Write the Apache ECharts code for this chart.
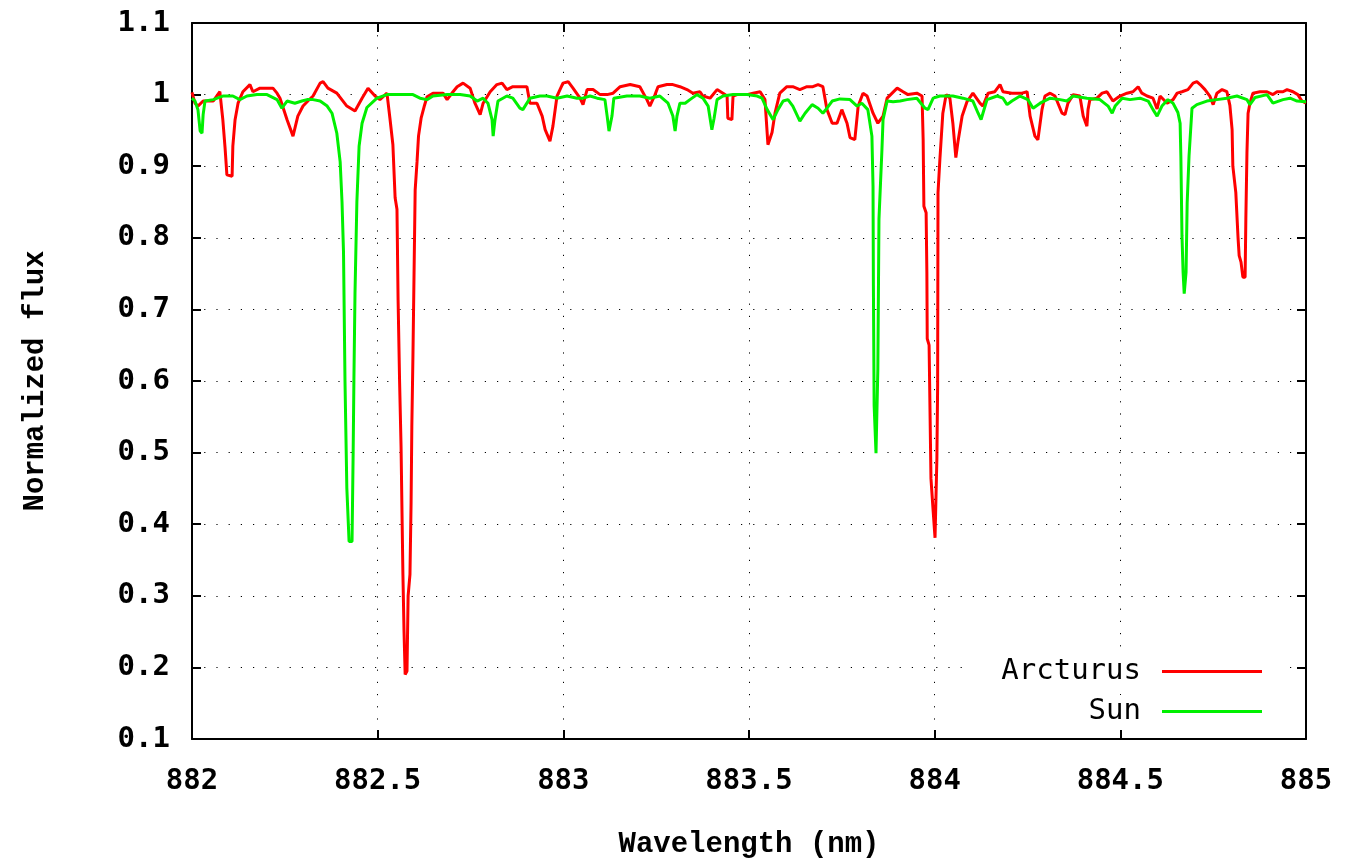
<!DOCTYPE html>
<html>
<head>
<meta charset="utf-8">
<script src="https://cdn.jsdelivr.net/npm/echarts@6/dist/echarts.min.js"></script>
<style>
html,body{margin:0;padding:0;background:#fff;}
#chart{width:1346px;height:864px;}
</style>
</head>
<body>
<div id="chart"></div>
<script>
// ---- Data ----
const xTicks = [882, 882.5, 883, 883.5, 884, 884.5, 885];
const yTicks = [0.1, 0.2, 0.3, 0.4, 0.5, 0.6, 0.7, 0.8, 0.9, 1, 1.1];
const seriesNames = ['Arcturus', 'Sun'];

const arcturusWavelength = [
 882.000,882.008,882.016,882.030,882.057,882.075,882.083,882.089,882.094,882.108,882.110,882.116,882.124,882.137,882.156,882.164,882.183,882.218,882.229,882.237,
 882.256,882.272,882.285,882.299,882.312,882.326,882.345,882.353,882.366,882.390,882.417,882.439,882.458,882.474,882.493,882.506,882.525,882.533,882.541,882.547,
 882.552,882.555,882.559,882.563,882.566,882.568,882.571,882.574,882.579,882.582,882.587,882.590,882.592,882.595,882.601,882.606,882.610,882.617,882.625,882.633,
 882.649,882.676,882.687,882.703,882.714,882.730,882.749,882.762,882.776,882.784,882.803,882.821,882.835,882.848,882.864,882.902,882.910,882.929,882.943,882.951,
 882.964,882.972,882.983,882.999,883.013,883.026,883.045,883.053,883.064,883.080,883.099,883.118,883.134,883.153,883.180,883.206,883.225,883.233,883.247,883.255,
 883.279,883.295,883.314,883.333,883.349,883.368,883.376,883.395,883.414,883.430,883.441,883.443,883.454,883.457,883.468,883.495,883.511,883.530,883.543,883.551,
 883.562,883.570,883.583,883.602,883.618,883.637,883.656,883.672,883.686,883.699,883.710,883.724,883.737,883.750,883.764,883.772,883.785,883.794,883.807,883.818,
 883.834,883.847,883.861,883.872,883.899,883.915,883.928,883.952,883.966,883.969,883.971,883.977,883.979,883.980,883.985,883.990,883.996,884.001,884.006,884.008,
 884.009,884.014,884.022,884.031,884.041,884.049,884.057,884.063,884.074,884.087,884.103,884.122,884.130,884.144,884.162,884.176,884.184,884.208,884.235,884.249,
 884.257,884.270,884.278,884.289,884.297,884.311,884.324,884.343,884.351,884.359,884.373,884.391,884.400,884.410,884.413,884.418,884.437,884.451,884.464,884.480,
 884.499,884.518,884.534,884.548,884.558,884.572,884.588,884.599,884.607,884.626,884.642,884.653,884.666,884.682,884.696,884.706,884.715,884.728,884.741,884.750,
 884.760,884.774,884.787,884.795,884.801,884.803,884.811,884.817,884.820,884.825,884.830,884.836,884.838,884.841,884.844,884.849,884.857,884.876,884.895,884.911,
 884.922,884.938,884.949,884.965,884.978,884.989,885.000
];
const arcturusFlux = [
 1.003,0.988,0.984,0.991,0.991,1.004,0.965,0.926,0.888,0.886,0.928,0.965,0.988,1.004,1.014,1.004,1.009,1.009,1.002,0.995,
 0.965,0.942,0.970,0.984,0.991,0.998,1.016,1.018,1.009,1.002,0.984,0.977,0.995,1.009,0.998,0.993,1.002,0.967,0.930,0.856,
 0.840,0.713,0.600,0.508,0.400,0.330,0.250,0.190,0.195,0.300,0.330,0.430,0.536,0.635,0.867,0.906,0.942,0.967,0.983,0.997,
 1.002,1.002,0.993,1.004,1.011,1.016,1.009,0.988,0.972,0.988,1.004,1.014,1.016,1.007,1.011,1.011,0.988,0.988,0.970,0.951,
 0.935,0.956,0.998,1.016,1.018,1.009,0.995,0.986,1.007,1.007,1.000,1.000,1.002,1.011,1.014,1.011,0.993,0.984,1.000,1.011,
 1.014,1.014,1.011,1.007,1.002,1.004,0.998,0.995,1.007,1.002,0.998,0.967,0.965,0.998,1.000,1.000,1.002,1.004,0.993,0.930,
 0.947,0.974,1.002,1.011,1.011,1.007,1.011,1.011,1.014,1.011,0.979,0.960,0.960,0.979,0.960,0.940,0.937,0.984,1.002,0.998,
 0.974,0.960,0.970,0.995,1.009,1.004,1.000,1.002,0.998,0.937,0.844,0.835,0.752,0.659,0.650,0.464,0.418,0.381,0.492,0.594,
 0.863,0.909,0.974,1.000,0.995,0.960,0.912,0.935,0.970,0.990,1.002,0.988,0.984,1.002,1.004,1.014,1.004,1.002,1.002,1.004,
 0.970,0.942,0.937,0.979,0.998,1.002,0.998,0.974,0.972,0.988,1.000,0.998,0.970,0.956,0.979,0.993,0.995,1.002,1.004,0.991,
 0.998,1.002,1.004,1.011,1.002,0.998,0.995,0.980,0.998,0.988,0.993,1.002,1.004,1.007,1.016,1.018,1.014,1.007,0.998,0.986,
 1.002,1.007,1.004,0.985,0.951,0.900,0.863,0.800,0.775,0.766,0.745,0.745,0.826,0.919,0.974,0.988,1.002,1.004,1.004,1.000,
 1.004,1.004,1.007,1.004,1.000,0.991,0.988
];

const sunWavelength = [
 882.000,882.008,882.016,882.022,882.027,882.030,882.035,882.057,882.083,882.110,882.129,882.148,882.175,882.202,882.229,882.242,882.256,882.277,882.296,882.310,
 882.326,882.345,882.364,882.377,882.390,882.399,882.404,882.408,882.412,882.417,882.423,882.431,882.434,882.436,882.439,882.444,882.450,882.458,882.471,882.498,
 882.525,882.560,882.595,882.614,882.633,882.649,882.687,882.722,882.749,882.768,882.784,882.797,882.808,882.811,882.816,882.824,882.848,882.864,882.883,882.891,
 882.910,882.937,882.956,882.983,883.010,883.037,883.053,883.072,883.091,883.112,883.118,883.123,883.131,883.136,883.171,883.206,883.233,883.260,883.282,883.295,
 883.301,883.306,883.314,883.328,883.341,883.360,883.376,883.390,883.400,883.406,883.414,883.430,883.457,883.495,883.522,883.535,883.549,883.565,883.578,883.592,
 883.605,883.618,883.637,883.651,883.670,883.686,883.699,883.710,883.724,883.745,883.772,883.791,883.804,883.820,883.831,883.834,883.835,883.837,883.842,883.845,
 883.847,883.850,883.858,883.861,883.872,883.888,883.907,883.925,883.952,883.974,883.982,883.996,884.014,884.049,884.076,884.103,884.117,884.125,884.130,884.141,
 884.168,884.184,884.195,884.208,884.230,884.251,884.265,884.284,884.311,884.338,884.356,884.373,884.410,884.445,884.467,884.478,884.486,884.505,884.526,884.553,
 884.575,884.588,884.599,884.612,884.628,884.642,884.655,884.661,884.663,884.666,884.669,884.672,884.674,884.677,884.680,884.685,884.693,884.706,884.733,884.760,
 884.787,884.814,884.841,884.849,884.863,884.895,884.911,884.938,884.957,884.976,885.000
];
const sunFlux = [
 0.995,0.991,0.979,0.949,0.946,0.972,0.991,0.993,0.998,0.998,0.993,0.998,1.000,1.000,0.993,0.981,0.991,0.988,0.991,0.993,
 0.993,0.991,0.984,0.974,0.946,0.906,0.850,0.780,0.600,0.450,0.376,0.376,0.500,0.600,0.724,0.850,0.928,0.960,0.982,0.995,
 1.000,1.000,1.000,0.995,0.993,0.998,1.000,1.000,0.998,0.991,0.995,0.988,0.965,0.942,0.965,0.991,0.998,0.995,0.981,0.979,
 0.995,0.998,0.998,0.995,0.998,0.995,0.995,0.998,0.995,0.993,0.970,0.949,0.970,0.995,0.998,0.998,0.995,0.998,0.988,0.970,
 0.949,0.970,0.988,0.988,0.993,1.000,0.995,0.984,0.951,0.967,0.993,0.998,1.000,1.000,0.998,0.995,0.979,0.965,0.979,0.991,
 0.993,0.984,0.963,0.974,0.986,0.981,0.974,0.981,0.991,0.994,0.993,0.984,0.988,0.979,0.942,0.872,0.733,0.566,0.499,0.500,
 0.617,0.826,0.923,0.965,0.991,0.990,0.991,0.993,0.995,0.981,0.979,0.995,0.998,0.998,0.995,0.991,0.974,0.965,0.974,0.993,
 0.998,0.995,0.986,0.991,0.998,0.993,0.981,0.988,0.995,0.993,0.991,0.998,0.995,0.993,0.984,0.974,0.984,0.995,0.993,0.995,
 0.991,0.979,0.970,0.984,0.993,0.988,0.975,0.960,0.914,0.803,0.752,0.722,0.724,0.752,0.849,0.914,0.981,0.986,0.991,0.993,
 0.995,0.998,0.993,0.986,0.996,1.000,0.988,0.993,0.995,0.991,0.990
];

// ---- Build series data ----
const zip = (xs, ys) => xs.map((x, i) => [x, ys[i]]);
const arcturusData = zip(arcturusWavelength, arcturusFlux);
const sunData = zip(sunWavelength, sunFlux);

const tickFont = { fontFamily: 'DejaVu Sans Mono', fontWeight: 'bold', fontSize: 29, color: '#000' };
const titleFont = { fontFamily: 'Liberation Mono', fontWeight: 'bold', fontSize: 29, color: '#000' };
const fmt = v => String(+(+v).toFixed(2));

const chart = echarts.init(document.getElementById('chart'), null, { renderer: 'canvas' });
const baseX = {
  type: 'value', min: xTicks[0], max: xTicks[xTicks.length - 1], interval: 0.5,
  axisLine: { show: true, onZero: false, lineStyle: { color: '#000', width: 2 } },
  axisTick: { show: true, inside: true, length: 9, lineStyle: { color: '#000', width: 2 } }
};
const baseY = {
  type: 'value', min: yTicks[0], max: yTicks[yTicks.length - 1], interval: 0.1,
  axisLine: { show: true, onZero: false, lineStyle: { color: '#000', width: 2 } },
  axisTick: { show: true, inside: true, length: 9, lineStyle: { color: '#000', width: 2 } }
};
const legendCommon = {
  orient: 'horizontal', align: 'right', right: 63, itemWidth: 100, itemHeight: 3, icon: 'rect',
  backgroundColor: '#fff', padding: [2, 21, 2, 35],
  textStyle: { fontFamily: 'DejaVu Sans Mono', fontSize: 29, color: '#000', padding: [0, 16, 0, 0] },
  selectedMode: false
};

chart.setOption({
  backgroundColor: '#fff',
  animation: false,
  grid: { left: 192, right: 40, top: 23, bottom: 122, containLabel: false },
  legend: [
    Object.assign({}, legendCommon, { data: [seriesNames[0]], top: 655 }),
    Object.assign({}, legendCommon, { data: [seriesNames[1]], top: 695 })
  ],
  xAxis: [
    Object.assign({}, baseX, {
      position: 'bottom',
      name: 'Wavelength (nm)', nameLocation: 'middle', nameGap: 91, nameTextStyle: titleFont,
      axisLabel: Object.assign({ margin: 28, formatter: fmt }, tickFont),
      splitLine: { show: true, lineStyle: { color: '#000', width: 1, type: [1.2, 11] } }
    }),
    Object.assign({}, baseX, { position: 'top', axisLabel: { show: false }, splitLine: { show: false } })
  ],
  yAxis: [
    Object.assign({}, baseY, {
      position: 'left',
      name: 'Normalized flux', nameLocation: 'middle', nameGap: 142, nameTextStyle: titleFont,
      axisLabel: Object.assign({ margin: 22, formatter: fmt }, tickFont),
      splitLine: { show: true, lineStyle: { color: '#000', width: 1, type: [1.2, 11] } }
    }),
    Object.assign({}, baseY, { position: 'right', axisLabel: { show: false }, splitLine: { show: false } })
  ],
  series: [
    { name: seriesNames[0], type: 'line', data: arcturusData, showSymbol: false, symbol: 'none',
      lineStyle: { color: '#ff0000', width: 3 }, itemStyle: { color: '#ff0000' }, z: 3 },
    { name: seriesNames[1], type: 'line', data: sunData, showSymbol: false, symbol: 'none',
      lineStyle: { color: '#00f000', width: 3 }, itemStyle: { color: '#00f000' }, z: 4 }
  ]
});
</script>
</body>
</html>
